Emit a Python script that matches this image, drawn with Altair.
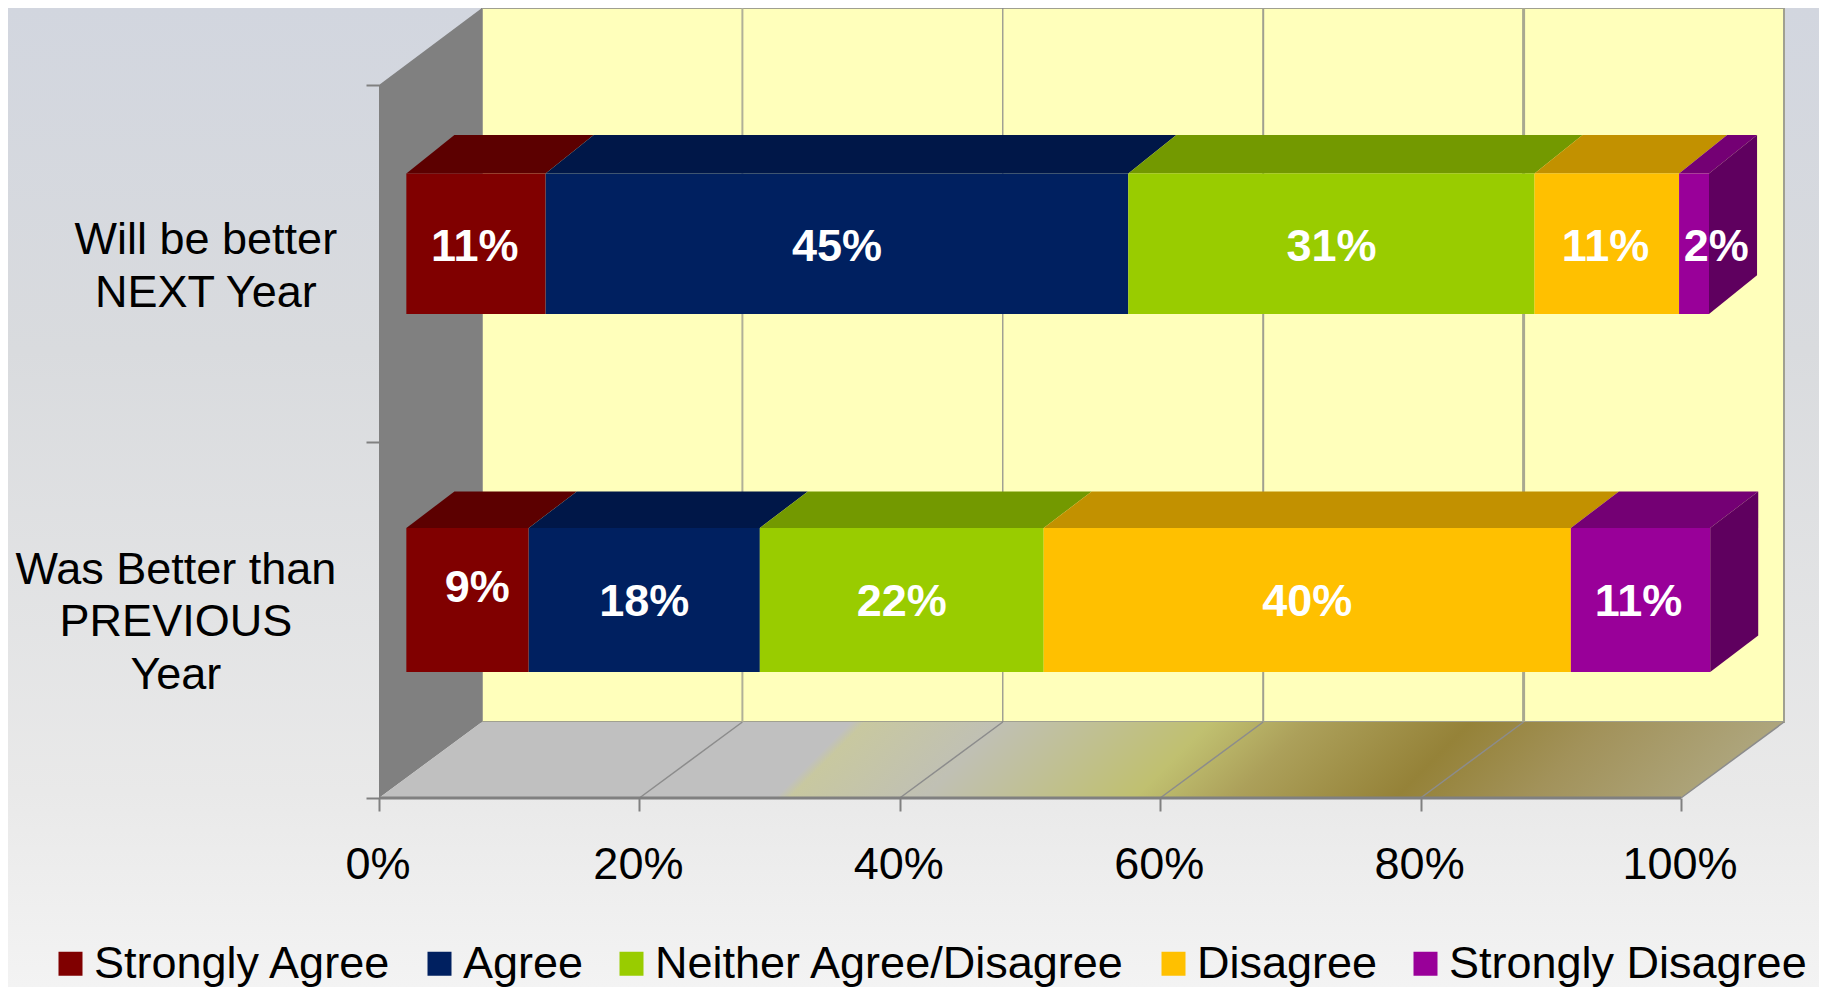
import altair as alt
import pandas as pd

# ---- values
categories = ["Will be better\nNEXT Year", "Was Better than\nPREVIOUS\nYear"]
responses = ["Strongly Agree", "Agree", "Neither Agree/Disagree", "Disagree", "Strongly Disagree"]
next_year = [10.7, 44.75, 31.2, 11.1, 2.3]
previous_year = [9.4, 17.75, 21.8, 40.49, 10.7]
x_ticks = [0, 20, 40, 60, 80, 100]
y_ticks = [0, 50, 100]

# ---- colours
front_colors = ["#800000", "#002060", "#99CC00", "#FFC000", "#990099"]
top_colors = ["#5C0000", "#001748", "#739900", "#C29100", "#740074"]
side_color = "#5F005F"
wall_color = "#808080"
back_color = "#FFFFBB"
line_color = "#808080"
font = "Liberation Sans"

# ---- 3-D geometry, in axis units
X_MAX, Y_MAX = 107.91, 110.8
WALL_DX, WALL_DY = 7.91, 10.66
BAR_START = 2.1
BAR_DX = 3.69
BAR_DYS = [5.4, 5.12]
bar_spans = [(67.9, 87.6), (17.67, 37.87)]
label_nudge_x = [[-0.1, 0, 0, -0.1, 1.7], [0.75, 0, 0, 0, -0.15]]
label_nudge_y = [[-0.5, -0.5, -0.5, -0.5, -0.5], [1.65, -0.35, -0.35, -0.35, -0.35]]
cat_label_pos = [(-13.3, 78.2), (-15.6, 32.0)]

xs = alt.Scale(domain=[0, X_MAX], nice=False, zero=False)
ys = alt.Scale(domain=[0, Y_MAX], nice=False, zero=False)
x_axis = alt.Axis(
    values=x_ticks, labelExpr="datum.value + '%'", domain=False, grid=False,
    tickColor=line_color, tickWidth=2, tickSize=13, labelFontSize=45, labelFont=font,
    labelColor="#000000", labelPadding=31, labelOffset=-1.5, labelFlush=False,
    labelOverlap=False, zindex=1,
)
y_axis = alt.Axis(
    values=y_ticks, labels=False, domain=False, grid=False,
    tickColor=line_color, tickWidth=2, tickSize=13, zindex=1,
)
X = lambda f="x": alt.X(f"{f}:Q", scale=xs, title=None, axis=x_axis, stack=None)
Y = lambda f="y": alt.Y(f"{f}:Q", scale=ys, title=None, axis=y_axis, stack=None)
X2 = alt.X2("x2:Q")
Y2 = alt.Y2("y2:Q")

# ---- page background
bg = alt.Chart(pd.DataFrame({"a": [0]})).mark_rect(
    color=alt.Gradient(
        gradient="linear", x1=0, x2=0, y1=0, y2=1,
        stops=[
            alt.GradientStop(offset=0, color="#D2D6DF"),
            alt.GradientStop(offset=0.35, color="#D9DBDE"),
            alt.GradientStop(offset=0.8, color="#E9E9E9"),
            alt.GradientStop(offset=1, color="#F3F3F3"),
        ],
    )
).encode(x=alt.value(-371), x2=alt.value(1440), y=alt.value(0), y2=alt.value(979))

# ---- walls
left_wall = alt.Chart(pd.DataFrame({
    "x": [0, WALL_DX], "y": [0, WALL_DY], "y2": [100, Y_MAX]
})).mark_area(color=wall_color, orient="vertical").encode(x=X(), y=Y(), y2=Y2)

back_wall = alt.Chart(pd.DataFrame({
    "x": [WALL_DX], "x2": [X_MAX], "y": [WALL_DY], "y2": [Y_MAX]
})).mark_rect(color=back_color, stroke="#A0A090", strokeWidth=2).encode(x=X(), x2=X2, y=Y(), y2=Y2)

floor = alt.Chart(pd.DataFrame({
    "y": [0, WALL_DY], "x": [0, WALL_DX], "x2": [100, X_MAX]
})).mark_area(
    orient="horizontal",
    color=alt.Gradient(
        gradient="linear", x1=0, y1=0, x2=1, y2=0.054,
        stops=[
            alt.GradientStop(offset=0, color="#C0C0C0"),
            alt.GradientStop(offset=0.335, color="#C0C0C0"),
            alt.GradientStop(offset=0.345, color="#C8C8A0"),
            alt.GradientStop(offset=0.44, color="#C0C0B4"),
            alt.GradientStop(offset=0.59, color="#C0C070"),
            alt.GradientStop(offset=0.66, color="#ACA05A"),
            alt.GradientStop(offset=0.775, color="#958238"),
            alt.GradientStop(offset=0.87, color="#A2925A"),
            alt.GradientStop(offset=1, color="#AEA67E"),
        ],
    ),
).encode(y=Y(), x=X(), x2=X2)

# ---- gridlines on the back wall and the floor
grid_widths = [2, 1.2, 2, 3]
grid_colors = ["#B0B098", "#8A8A8A", "#A0A090", "#A8A890"]
grid = alt.Chart(pd.DataFrame({
    "x": [t + WALL_DX for t in x_ticks[1:-1]],
    "y": [WALL_DY] * 4, "y2": [Y_MAX] * 4,
    "w": grid_widths, "c": grid_colors,
})).mark_rule().encode(
    x=X(), y=Y(), y2=Y2,
    size=alt.Size("w:Q", scale=None, legend=None),
    color=alt.Color("c:N", scale=None),
)

floor_rows = []
for t in x_ticks[1:]:
    floor_rows += [{"k": t, "x": t, "y": 0}, {"k": t, "x": t + WALL_DX, "y": WALL_DY}]
floor_lines = alt.Chart(pd.DataFrame(floor_rows)).mark_line(
    color="#8C8C8C", strokeWidth=1.5
).encode(x=X(), y=Y(), detail="k:N")

front_rule = alt.Chart(pd.DataFrame({"x": [0], "x2": [100], "y": [0]})).mark_rule(
    color=line_color, strokeWidth=3
).encode(x=X(), x2=X2, y=Y())

# ---- bars
front_rows, top_rows, side_rows, label_rows = [], [], [], []
for b, values in enumerate([next_year, previous_year]):
    lo, hi = bar_spans[b]
    dy = BAR_DYS[b]
    start = BAR_START
    for i, v in enumerate(values):
        a, z = start, start + v
        front_rows.append({"resp": responses[i], "x": a, "x2": z, "y": lo, "y2": hi})
        key = f"{b}-{i}"
        top_rows += [
            {"k": key, "c": top_colors[i], "y": hi, "x": a, "x2": z},
            {"k": key, "c": top_colors[i], "y": hi + dy, "x": a + BAR_DX, "x2": z + BAR_DX},
        ]
        label_rows.append({
            "x": (a + z) / 2 + label_nudge_x[b][i],
            "y": (lo + hi) / 2 + label_nudge_y[b][i],
            "t": f"{round(v)}%",
        })
        start = z
    side_rows += [
        {"k": b, "x": start, "y": lo, "y2": hi},
        {"k": b, "x": start + BAR_DX, "y": lo + dy, "y2": hi + dy},
    ]

bars_top = alt.Chart(pd.DataFrame(top_rows)).mark_area(orient="horizontal").encode(
    y=Y(), x=X(), x2=X2, detail="k:N", color=alt.Color("c:N", scale=None)
)
bars_side = alt.Chart(pd.DataFrame(side_rows)).mark_area(orient="vertical", color=side_color).encode(
    x=X(), y=Y(), y2=Y2, detail="k:N"
)
bars_front = alt.Chart(pd.DataFrame(front_rows)).mark_rect().encode(
    x=X(), x2=X2, y=Y(), y2=Y2,
    color=alt.Color(
        "resp:N",
        scale=alt.Scale(domain=responses, range=front_colors),
        sort=responses,
        legend=alt.Legend(
            orient="none", legendX=-331, legendY=933, direction="horizontal", columns=5,
            title=None, symbolType="square", symbolSize=576, symbolStrokeWidth=0,
            labelFontSize=45, labelFont=font, labelColor="#000000", labelOffset=1,
            columnPadding=25, labelLimit=700,
        ),
    ),
)
bar_labels = alt.Chart(pd.DataFrame(label_rows)).mark_text(
    font=font, fontSize=45, fontWeight="bold", color="white", baseline="middle", align="center"
).encode(x=X(), y=Y(), text="t:N")

cat_labels = alt.Chart(pd.DataFrame({
    "x": [p[0] for p in cat_label_pos], "y": [p[1] for p in cat_label_pos], "t": categories,
})).mark_text(
    font=font, fontSize=45, color="#000000", align="center", baseline="middle",
    lineBreak="\n", lineHeight=52.5,
).encode(x=X(), y=Y(), text="t:N")

chart = alt.layer(
    bg, back_wall, left_wall, floor, grid, floor_lines, front_rule,
    bars_top, bars_side, bars_front, bar_labels, cat_labels,
).properties(
    width=1405, height=790,
    autosize=alt.AutoSizeParams(type="none"),
    padding={"left": 371, "top": 0, "right": 35, "bottom": 189},
).configure_view(strokeWidth=0)

chart.save("out.html", embed_options={"renderer": "svg", "actions": False})
